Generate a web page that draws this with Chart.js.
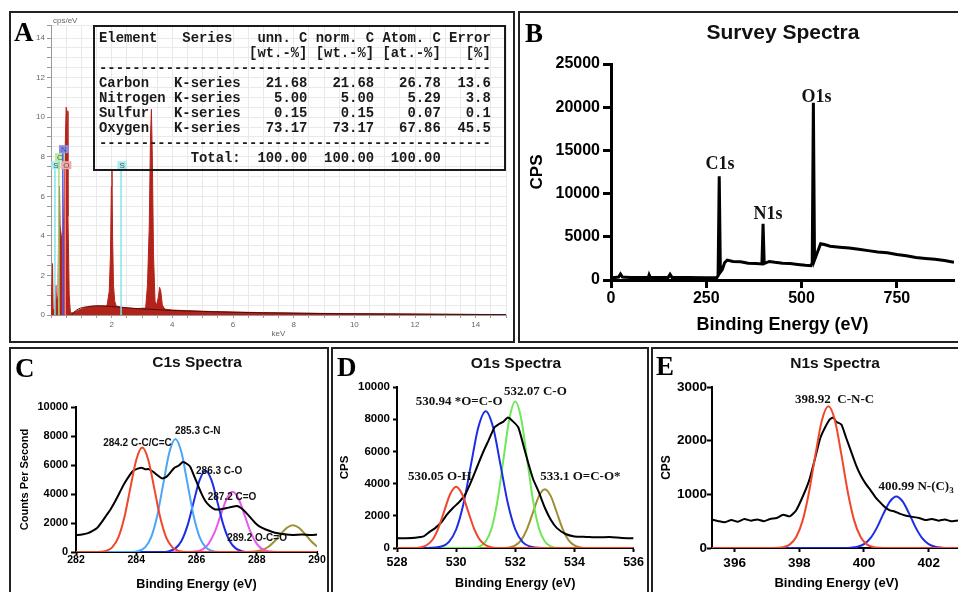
<!DOCTYPE html>
<html>
<head>
<meta charset="utf-8">
<title>EDS and XPS spectra</title>
<script src="https://cdn.jsdelivr.net/npm/chart.js@4.4.1/dist/chart.umd.min.js"></script>
<style>
  body { margin: 0; width: 958px; height: 592px; overflow: hidden; background: #fff; position: relative; }
  .panel { position: absolute; border: 2px solid #222; overflow: hidden; }
  .panel canvas { position: absolute; left: 0; top: 0; }
  .letter { position: absolute; font: bold 27px/1 "Liberation Serif", serif; color: #000; }
  .title { position: absolute; font-family: "Liberation Sans", Arial, sans-serif; font-weight: bold; line-height: 1; white-space: nowrap; transform: translateX(-50%); color: #111; }
  #eds-table { position: absolute; left: 82px; top: 12px; width: 413px; height: 146px; box-sizing: border-box; border: 2px solid #1a1a1a; padding: 3.5px 0 0 4px; }
  #eds-table pre { margin: 0; font: bold 13.9px/15px "Liberation Mono", monospace; color: #1a1a1a; }
  #cps-unit { position: absolute; left: 42px; top: 4px; font: 8px/1 "Liberation Sans", sans-serif; color: #666; }
</style>
</head>
<body>

<div class="panel" style="left:9px;top:11px;width:502px;height:328px">
  <canvas id="eds-chart" width="502" height="328"></canvas>
  <div id="cps-unit">cps/eV</div>
  <div id="eds-table"><pre id="eds-text"></pre></div>
  <div class="letter" style="left:3px;top:6px">A</div>
</div>

<div class="panel" style="left:518px;top:11px;width:438px;height:328px">
  <canvas id="survey-chart" width="438" height="328"></canvas>
  <div class="title" style="left:263px;top:8px;font-size:21px">Survey Spectra</div>
  <div class="letter" style="left:5px;top:7px">B</div>
</div>

<div class="panel" style="left:9px;top:347px;width:316px;height:245px">
  <canvas id="c1s-chart" width="316" height="245"></canvas>
  <div class="title" style="left:186px;top:5px;font-size:15.5px">C1s Spectra</div>
  <div class="letter" style="left:4px;top:6px">C</div>
</div>

<div class="panel" style="left:331px;top:347px;width:314px;height:245px">
  <canvas id="o1s-chart" width="314" height="245"></canvas>
  <div class="title" style="left:183px;top:6px;font-size:15.5px">O1s Spectra</div>
  <div class="letter" style="left:4px;top:5px">D</div>
</div>

<div class="panel" style="left:651px;top:347px;width:316px;height:245px">
  <canvas id="n1s-chart" width="316" height="245"></canvas>
  <div class="title" style="left:182px;top:6px;font-size:15.5px">N1s Spectra</div>
  <div class="letter" style="left:3px;top:4px">E</div>
</div>

<script>
// A: EDS spectrum + quantification table
const edsKeV = [0, 0.03, 0.05, 0.07, 0.12, 0.16, 0.19, 0.23, 0.26, 0.28, 0.30, 0.34, 0.38, 0.42, 0.46, 0.50, 0.53, 0.56, 0.60, 0.64, 0.72, 0.85, 1.0, 1.2, 1.5, 1.8, 1.85, 1.92, 1.96, 1.99, 2.01, 2.03, 2.06, 2.10, 2.15, 2.3, 2.5, 2.8, 3.12, 3.18, 3.24, 3.28, 3.31, 3.34, 3.38, 3.43, 3.48, 3.54, 3.58, 3.62, 3.67, 3.75, 4.0, 4.5, 5, 6, 7, 8, 9, 10, 11, 12, 13, 14, 15];
const edsCps = [0, 0, 2.6, 0.3, 0.2, 1.5, 0.3, 1.0, 5.5, 6.5, 4.5, 4.0, 3.8, 5.0, 8.0, 10.5, 10.3, 5.0, 1.0, 0.1, 0.12, 0.2, 0.3, 0.4, 0.46, 0.45, 0.5, 1.2, 3.0, 6.5, 7.3, 4.0, 1.5, 0.7, 0.45, 0.4, 0.36, 0.32, 0.35, 1.5, 4.5, 9.0, 10.4, 8.0, 3.0, 0.7, 0.5, 0.9, 1.4, 1.2, 0.5, 0.3, 0.25, 0.22, 0.19, 0.15, 0.12, 0.1, 0.08, 0.07, 0.06, 0.05, 0.04, 0.03, 0.02];
const edsBgKeV = [0.68, 0.9, 1.2, 1.5, 1.8, 2.2, 2.6, 3.0, 3.5, 4, 5, 6, 8, 10, 12, 15];
const edsBgCps = [0.02, 0.3, 0.42, 0.46, 0.45, 0.4, 0.35, 0.31, 0.27, 0.23, 0.18, 0.14, 0.09, 0.06, 0.04, 0.02];
const markerNames = ['S', 'C', 'N', 'O', 'S'];
const markerKeV = [0.13, 0.26, 0.39, 0.47, 2.31];
const markerTop = [7.37, 7.78, 8.18, 7.37, 7.37];

const tableElements = ['Carbon', 'Nitrogen', 'Sulfur', 'Oxygen'];
const tableSeries = ['K-series', 'K-series', 'K-series', 'K-series'];
const tableUnnC = ['21.68', '5.00', '0.15', '73.17'];
const tableNormC = ['21.68', '5.00', '0.15', '73.17'];
const tableAtomC = ['26.78', '5.29', '0.07', '67.86'];
const tableError = ['13.6', '3.8', '0.1', '45.5'];
const tableTotals = ['100.00', '100.00', '100.00'];

// B: survey
const surveyEnergy = [0, 10, 20, 25, 30, 50, 75, 98, 100, 103, 125, 150, 155, 160, 200, 250, 278, 281, 284, 287, 292, 298, 305, 320, 340, 360, 380, 396, 399, 402, 415, 430, 450, 470, 490, 510, 525, 528, 531, 534, 540, 550, 560, 575, 600, 625, 650, 675, 700, 725, 750, 775, 800, 825, 850, 875, 900];
const surveyCps = [250, 300, 350, 700, 350, 300, 280, 300, 600, 300, 280, 300, 650, 300, 280, 260, 300, 500, 12000, 900, 1200, 2000, 2300, 2150, 2100, 1950, 1900, 1850, 6500, 1900, 2150, 2050, 1950, 1900, 1800, 1700, 1650, 2000, 20500, 2300, 3000, 4200, 4100, 3900, 3800, 3700, 3550, 3400, 3250, 3150, 2950, 2800, 2600, 2500, 2400, 2250, 2050];

// C: C1s
const c1sEnergy = [282.0, 282.2, 282.4, 282.55, 282.7, 282.85, 283.0, 283.15, 283.3, 283.45, 283.6, 283.75, 283.9, 284.05, 284.2, 284.3, 284.4, 284.55, 284.7, 284.85, 285.0, 285.1, 285.25, 285.4, 285.55, 285.7, 285.8, 285.9, 286.0, 286.15, 286.3, 286.45, 286.6, 286.8, 287.0, 287.15, 287.35, 287.5, 287.65, 287.8, 287.95, 288.1, 288.3, 288.5, 288.7, 288.9, 289.2, 289.5, 289.8, 290.0];
const c1sCounts = [1170, 1200, 1300, 1450, 1650, 2050, 2500, 2950, 3500, 4100, 4700, 5200, 5600, 5750, 5800, 5700, 5720, 5550, 5300, 5080, 5180, 5400, 5780, 5950, 6200, 6050, 5850, 5350, 4850, 4100, 3500, 3150, 2950, 2950, 3030, 3100, 3170, 3000, 2700, 2350, 2000, 1750, 1550, 1400, 1290, 1230, 1180, 1200, 1170, 1200];
const c1sCCx = [282, 282.7, 283.0, 283.2, 283.4, 283.6, 283.8, 284.0, 284.2, 284.4, 284.6, 284.8, 285.0, 285.2, 285.4, 285.7, 290];
const c1sCCy = [0, 0, 80, 320, 970, 2340, 4370, 6350, 7200, 6350, 4370, 2340, 970, 320, 80, 0, 0];
const c1sCNx = [282, 283.8, 284.1, 284.3, 284.5, 284.7, 284.9, 285.1, 285.3, 285.5, 285.7, 285.9, 286.1, 286.3, 286.5, 286.8, 290];
const c1sCNy = [0, 0, 90, 340, 1050, 2540, 4730, 6880, 7800, 6880, 4730, 2540, 1050, 340, 90, 0, 0];
const c1sCOx = [282, 284.8, 285.1, 285.3, 285.5, 285.7, 285.9, 286.1, 286.3, 286.5, 286.7, 286.9, 287.1, 287.3, 287.5, 287.8, 290];
const c1sCOy = [0, 0, 60, 250, 760, 1820, 3400, 4940, 5600, 4940, 3400, 1820, 760, 250, 60, 0, 0];
const c1sCdOx = [282, 285.7, 286.0, 286.2, 286.4, 286.6, 286.8, 287.0, 287.2, 287.4, 287.6, 287.8, 288.0, 288.2, 288.4, 288.7, 290];
const c1sCdOy = [0, 0, 45, 180, 560, 1350, 2520, 3660, 4150, 3660, 2520, 1350, 560, 180, 45, 0, 0];
const c1sOCOx = [282, 287.6, 287.8, 288.0, 288.2, 288.4, 288.6, 288.8, 289.0, 289.2, 289.4, 289.6, 289.8, 290.0];
const c1sOCOy = [0, 0, 15, 54, 157, 381, 760, 1247, 1676, 1850, 1676, 1247, 760, 381];

// D: O1s
const o1sEnergy = [528.0, 528.3, 528.6, 528.9, 529.1, 529.3, 529.5, 529.7, 529.9, 530.1, 530.3, 530.5, 530.7, 530.9, 531.1, 531.3, 531.45, 531.6, 531.75, 531.9, 532.1, 532.3, 532.45, 532.6, 532.8, 533.0, 533.2, 533.4, 533.7, 534.0, 534.4, 534.8, 535.2, 535.6, 536.0];
const o1sCounts = [600, 610, 640, 720, 1000, 1250, 1600, 2100, 2500, 2850, 3300, 4100, 5000, 5900, 6700, 7500, 7700, 7850, 8100, 7900, 7500, 6200, 5200, 4300, 3450, 2500, 1750, 1250, 870, 720, 690, 660, 680, 620, 600];
const o1sOHx = [528, 528.5, 528.8, 529.0, 529.2, 529.4, 529.6, 529.8, 530.0, 530.2, 530.4, 530.6, 530.8, 531.0, 531.2, 531.5, 536];
const o1sOHy = [0, 0, 40, 170, 510, 1240, 2310, 3350, 3800, 3350, 2310, 1240, 510, 170, 40, 0, 0];
const o1sOdCx = [528, 529.0, 529.5, 529.75, 530.0, 530.25, 530.5, 530.75, 531.0, 531.25, 531.5, 531.75, 532.0, 532.25, 532.5, 532.9, 536];
const o1sOdCy = [0, 0, 90, 370, 1150, 2760, 5160, 7500, 8500, 7500, 5160, 2760, 1150, 370, 90, 0, 0];
const o1sCOx = [528, 530.5, 530.8, 531.0, 531.2, 531.4, 531.6, 531.8, 532.0, 532.2, 532.4, 532.6, 532.8, 533.0, 533.2, 533.5, 536];
const o1sCOy = [0, 0, 100, 400, 1230, 2960, 5520, 8030, 9100, 8030, 5520, 2960, 1230, 400, 100, 0, 0];
const o1sOCOx = [528, 531.5, 531.8, 532.0, 532.2, 532.4, 532.6, 532.8, 533.0, 533.2, 533.4, 533.6, 533.8, 534.0, 534.2, 534.5, 536];
const o1sOCOy = [0, 0, 40, 160, 490, 1190, 2220, 3220, 3650, 3220, 2220, 1190, 490, 160, 40, 0, 0];

// E: N1s
const n1sEnergy = [395.3, 395.5, 395.7, 395.9, 396.1, 396.3, 396.5, 396.7, 396.9, 397.1, 397.3, 397.5, 397.7, 397.9, 398.1, 398.3, 398.5, 398.65, 398.8, 398.95, 399.05, 399.15, 399.3, 399.45, 399.6, 399.75, 399.9, 400.05, 400.2, 400.35, 400.5, 400.65, 400.8, 400.95, 401.1, 401.3, 401.5, 401.7, 401.9, 402.1, 402.3, 402.5, 402.7, 403.0];
const n1sCounts = [530, 500, 480, 520, 490, 540, 510, 530, 500, 540, 560, 620, 590, 700, 950, 1250, 1700, 2050, 2250, 2400, 2430, 2350, 2300, 2050, 1800, 1550, 1350, 1200, 1080, 950, 850, 760, 700, 680, 640, 600, 580, 560, 520, 540, 510, 530, 500, 520];
const n1sCNCx = [395.3, 397.2, 397.5, 397.7, 397.9, 398.1, 398.3, 398.5, 398.7, 398.9, 399.1, 399.3, 399.5, 399.7, 399.9, 400.1, 400.3, 400.6, 403];
const n1sCNCy = [0, 0, 16, 63, 200, 505, 1040, 1745, 2380, 2640, 2380, 1745, 1040, 505, 200, 63, 16, 0, 0];
const n1sNC3x = [395.3, 399.3, 399.6, 399.8, 400.0, 400.2, 400.4, 400.6, 400.8, 401.0, 401.2, 401.4, 401.6, 401.8, 402.0, 402.2, 402.4, 402.7, 403];
const n1sNC3y = [0, 0, 6, 23, 72, 183, 380, 635, 865, 960, 865, 635, 380, 183, 72, 23, 6, 0, 0];
const n1sTicks = [396, 398, 400, 402];

const sans = '"Liberation Sans", Arial, sans-serif';
const serif = '"Liberation Serif", "Times New Roman", serif';
Chart.defaults.font.family = sans;
Chart.defaults.elements.point.radius = 0;
Chart.defaults.animation = false;
Chart.defaults.events = [];
Chart.defaults.plugins.legend.display = false;
Chart.defaults.plugins.tooltip.enabled = false;

function pairs(xs, ys) {
    return xs.map((x, i) => ({x: x, y: ys[i]}));
}

function curve(xs, ys, color, width) {
    return {data: pairs(xs, ys), borderColor: color, borderWidth: width || 2, cubicInterpolationMode: 'monotone', fill: false};
}

// text labels placed at data coordinates
function textMarks(font, items) {
    return {
        id: 'textMarks',
        afterDatasetsDraw(chart) {
            const {ctx, scales: {x, y}} = chart;
            ctx.save();
            ctx.fillStyle = '#111';
            ctx.textBaseline = 'middle';
            items.forEach(it => {
                const px = x.getPixelForValue(it.x);
                const py = y.getPixelForValue(it.y);
                ctx.font = font;
                const w = ctx.measureText(it.text).width;
                let sw = 0;
                if (it.sub) {
                    ctx.font = font.replace(/[\d.]+px/, '9px');
                    sw = ctx.measureText(it.sub).width;
                }
                const left = px - (w + sw) / 2;
                ctx.textAlign = 'left';
                ctx.font = font;
                ctx.fillText(it.text, left, py);
                if (it.sub) {
                    ctx.font = font.replace(/[\d.]+px/, '9px');
                    ctx.fillText(it.sub, left + w, py + 4);
                }
            });
            ctx.restore();
        }
    };
}

function axis(o) {
    const w = o.lineWidth || 2;
    const shown = o.marks || (() => true);
    const cfg = {
        type: 'linear',
        min: o.min,
        max: o.max,
        border: {color: '#000', width: w},
        grid: {
            drawOnChartArea: false,
            tickLength: o.tickLength,
            tickWidth: w,
            tickColor: (c) => (c.tick && shown(c.tick.value)) ? '#000' : 'rgba(0,0,0,0)'
        },
        ticks: {
            stepSize: o.step,
            autoSkip: false,
            maxRotation: 0,
            padding: o.padding,
            color: '#000',
            font: {size: o.fontSize, weight: 'bold'},
            callback: (v) => shown(v) ? String(v) : ''
        },
        title: {
            display: true,
            text: o.title,
            color: '#000',
            font: {size: o.titleSize, weight: 'bold'},
            padding: o.titlePad
        },
        afterFit: (s) => {
            if (s.isHorizontal()) { s.height = o.size; } else { s.width = o.size; }
        }
    };
    if (o.ticksAt) {
        cfg.afterBuildTicks = (s) => { s.ticks = o.ticksAt.map(v => ({value: v})); };
    }
    return cfg;
}

// ---- table text ----
let rows = [];
rows.push('Element   Series   unn. C norm. C Atom. C Error');
rows.push(' '.repeat(18) + '[wt.-%] [wt.-%] [at.-%]   [%]');
rows.push('-'.repeat(47));
tableElements.forEach((el, i) => {
    rows.push(el.padEnd(9) + tableSeries[i] + tableUnnC[i].padStart(8) + tableNormC[i].padStart(8) + tableAtomC[i].padStart(8) + tableError[i].padStart(6));
});
rows.push('-'.repeat(47));
rows.push('Total:'.padStart(17) + tableTotals.map(t => t.padStart(8)).join(''));
document.getElementById('eds-text').textContent = rows.join('\n');

// ---- A ----
const markerLine = ['#86e3ea', '#9fe07a', '#5a5ae6', '#f08a8a', '#86e3ea'];
const markerBox = ['#a6eef2', '#b4f0a0', '#8a8af0', '#f5a8a8', '#a6eef2'];
const edsMarkers = {
    id: 'edsMarkers',
    afterDatasetsDraw(chart) {
        const {ctx, scales: {x, y}} = chart;
        ctx.save();
        ctx.font = '8px ' + sans;
        ctx.textAlign = 'center';
        ctx.textBaseline = 'middle';
        markerKeV.forEach((kev, i) => {
            const px = x.getPixelForValue(kev);
            const top = y.getPixelForValue(markerTop[i]);
            ctx.strokeStyle = markerLine[i];
            ctx.lineWidth = 1.5;
            ctx.beginPath();
            ctx.moveTo(px, y.getPixelForValue(0));
            ctx.lineTo(px, top);
            ctx.stroke();
            const bw = ctx.measureText(markerNames[i]).width + 4;
            ctx.fillStyle = markerBox[i];
            ctx.fillRect(px - bw / 2 + 1, top - 8, bw, 8);
            ctx.fillStyle = '#555';
            ctx.fillText(markerNames[i], px + 1, top - 3.8);
        });
        ctx.restore();
    }
};

new Chart(document.getElementById('eds-chart'), {
    type: 'line',
    data: {
        datasets: [
            {data: pairs(edsBgKeV, edsBgCps), borderColor: '#4a0d0a', borderWidth: 1, fill: false, tension: 0.4},
            {data: pairs(edsKeV, edsCps), borderColor: '#b3231a', backgroundColor: '#b3231a', borderWidth: 1, fill: 'origin', tension: 0}
        ]
    },
    options: {
        responsive: false,
        layout: {padding: {left: 0, right: 7, top: 12, bottom: 0}},
        scales: {
            x: {
                type: 'linear', min: 0, max: 15,
                border: {color: '#999', width: 1},
                grid: {color: '#e9e9e9', tickLength: 3, tickColor: '#999'},
                ticks: {stepSize: 0.5, autoSkip: false, maxRotation: 0, padding: 2, color: '#666', font: {size: 8},
                    callback: (v) => (v > 0 && v % 2 === 0) ? String(v) : ''},
                title: {display: true, text: 'keV', color: '#666', font: {size: 8}, padding: {top: 0, bottom: 2}},
                afterFit: (s) => { s.height = 26; }
            },
            y: {
                type: 'linear', min: 0, max: 14.66,
                border: {color: '#999', width: 1},
                grid: {color: '#e9e9e9', tickLength: 4, tickColor: '#999'},
                ticks: {stepSize: 0.5, autoSkip: false, padding: 2, color: '#666', font: {size: 8},
                    callback: (v) => v % 2 === 0 ? String(v) : ''},
                afterFit: (s) => { s.width = 40; }
            }
        }
    },
    plugins: [edsMarkers]
});

// ---- B ----
new Chart(document.getElementById('survey-chart'), {
    type: 'line',
    data: {
        datasets: [{data: pairs(surveyEnergy, surveyCps), borderColor: '#000', borderWidth: 3, tension: 0, fill: false}]
    },
    options: {
        responsive: false,
        layout: {padding: {left: 0, right: 4, top: 51, bottom: 0}},
        scales: {
            x: axis({min: 0, max: 900, step: 250, marks: (v) => v % 250 === 0, lineWidth: 3, tickLength: 8, padding: 1,
                fontSize: 16, title: 'Binding Energy (eV)', titleSize: 18, titlePad: {top: 0, bottom: 5}, size: 61}),
            y: axis({min: 0, max: 25000, step: 5000, lineWidth: 3, tickLength: 8, padding: 3,
                fontSize: 16, title: 'CPS', titleSize: 17, titlePad: {top: 7, bottom: 0}, size: 91})
        }
    },
    plugins: [textMarks('bold 18px ' + serif, [
        {text: 'C1s', x: 286, y: 13400},
        {text: 'N1s', x: 412, y: 7580},
        {text: 'O1s', x: 539, y: 21100}
    ])]
});

// ---- C ----
new Chart(document.getElementById('c1s-chart'), {
    type: 'line',
    data: {
        datasets: [
            curve(c1sCCx, c1sCCy, '#f0462a'),
            {data: pairs(c1sEnergy, c1sCounts), borderColor: '#000', borderWidth: 2, tension: 0.2, fill: false},
            curve(c1sCNx, c1sCNy, '#4aa6f8'),
            curve(c1sCOx, c1sCOy, '#1c2de6'),
            curve(c1sCdOx, c1sCdOy, '#ea58ec'),
            curve(c1sOCOx, c1sOCOy, '#9c9035')
        ]
    },
    options: {
        responsive: false,
        layout: {padding: {left: 0, right: 10, top: 58, bottom: 0}},
        scales: {
            x: axis({min: 282, max: 290, step: 2, tickLength: 3, padding: -1, fontSize: 10.5,
                title: 'Binding Energy (eV)', titleSize: 12.6, titlePad: {top: 0, bottom: 2}, size: 42}),
            y: axis({min: 0, max: 10000, step: 2000, tickLength: 5, padding: 3, fontSize: 11,
                title: 'Counts Per Second', titleSize: 11, titlePad: {top: 7, bottom: 0}, size: 65})
        }
    },
    plugins: [textMarks('bold 10px ' + sans, [
        {text: '284.2 C-C/C=C', x: 284.04, y: 7520},
        {text: '285.3 C-N', x: 286.04, y: 8345},
        {text: '286.3 C-O', x: 286.75, y: 5590},
        {text: '287.2 C=O', x: 287.18, y: 3790},
        {text: '289.2 O-C=O', x: 288.01, y: 966}
    ])]
});

// ---- D ----
new Chart(document.getElementById('o1s-chart'), {
    type: 'line',
    data: {
        datasets: [
            curve(o1sOHx, o1sOHy, '#f0462a'),
            {data: pairs(o1sEnergy, o1sCounts), borderColor: '#000', borderWidth: 2, tension: 0.2, fill: false},
            curve(o1sOdCx, o1sOdCy, '#1c2de6'),
            curve(o1sCOx, o1sCOy, '#6ee858'),
            curve(o1sOCOx, o1sOCOy, '#9c9035')
        ]
    },
    options: {
        responsive: false,
        layout: {padding: {left: 0, right: 10, top: 38, bottom: 0}},
        scales: {
            x: axis({min: 528, max: 536, step: 2, tickLength: 4, padding: 3, fontSize: 12.5,
                title: 'Binding Energy (eV)', titleSize: 12.6, titlePad: {top: 0, bottom: 3.4}, size: 46}),
            y: axis({min: 0, max: 10000, step: 2000, tickLength: 4, padding: 3, fontSize: 11.5,
                title: 'CPS', titleSize: 11.5, titlePad: {top: 5, bottom: 0}, size: 64})
        }
    },
    plugins: [textMarks('bold 13px ' + serif, [
        {text: '530.05 O-H', x: 529.45, y: 4410},
        {text: '530.94 *O=C-O', x: 530.1, y: 9070},
        {text: '532.07 C-O', x: 532.68, y: 9690},
        {text: '533.1 O=C-O*', x: 534.2, y: 4410}
    ])]
});

// ---- E ----
new Chart(document.getElementById('n1s-chart'), {
    type: 'line',
    data: {
        datasets: [
            curve(n1sCNCx, n1sCNCy, '#f0462a'),
            {data: pairs(n1sEnergy, n1sCounts), borderColor: '#000', borderWidth: 2, tension: 0.2, fill: false},
            curve(n1sNC3x, n1sNC3y, '#1c2de6')
        ]
    },
    options: {
        responsive: false,
        layout: {padding: {left: 0, right: 8, top: 38, bottom: 0}},
        scales: {
            x: axis({min: 395.3, max: 403, step: 2, ticksAt: n1sTicks, tickLength: 4, padding: 3, fontSize: 13.5,
                title: 'Binding Energy (eV)', titleSize: 13, titlePad: {top: 0, bottom: 3.2}, size: 46}),
            y: axis({min: 0, max: 3000, step: 1000, tickLength: 5, padding: 0, fontSize: 13.5,
                title: 'CPS', titleSize: 12, titlePad: {top: 6, bottom: 0}, size: 59})
        }
    },
    plugins: [textMarks('bold 13px ' + serif, [
        {text: '398.92  C-N-C', x: 399.09, y: 2756},
        {text: '400.99 N-(C)', sub: '3', x: 401.61, y: 1136}
    ])]
});
</script>
</body>
</html>
